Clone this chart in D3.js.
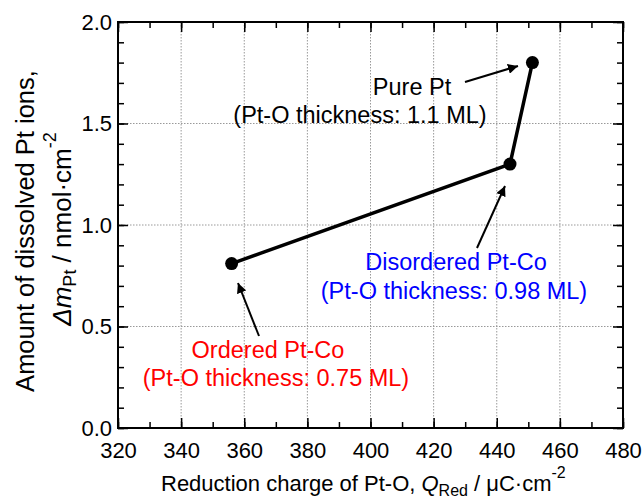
<!DOCTYPE html>
<html>
<head>
<meta charset="utf-8">
<script src="https://d3js.org/d3.v7.min.js"></script>
<style>
  body { margin: 0; background: #fff; }
  text { font-family: "Liberation Sans", Arial, sans-serif; }
</style>
</head>
<body>
<svg width="644" height="503"></svg>
<script>
// charge vs dissolved Pt, three catalysts
var samples = ["Ordered Pt-Co", "Disordered Pt-Co", "Pure Pt"];
var q_red = [356, 444.2, 451.3];
var dm_pt = [0.81, 1.30, 1.80];
var thickness = ["0.75", "0.98", "1.1"];
var x_ticks = [320, 340, 360, 380, 400, 420, 440, 460, 480];
var y_ticks = [0.0, 0.5, 1.0, 1.5, 2.0];

var plotLeft = 118, plotRight = 623, plotTop = 22, plotBottom = 428;

var svg = d3.select("svg");
var x = d3.scaleLinear().domain([320, 480]).range([plotLeft, plotRight]);
var y = d3.scaleLinear().domain([0, 2]).range([plotBottom, plotTop]);

// dotted grid
svg.append("g").selectAll("line")
    .data(x_ticks.slice(1, -1))
  .enter().append("line")
    .attr("x1", d => x(d)).attr("x2", d => x(d))
    .attr("y1", plotTop).attr("y2", plotBottom)
    .style("stroke", "#999").style("stroke-width", 1).style("stroke-dasharray", "1.5,1.5");
svg.append("g").selectAll("line")
    .data(y_ticks.slice(1, -1))
  .enter().append("line")
    .attr("x1", plotLeft).attr("x2", plotRight)
    .attr("y1", d => y(d)).attr("y2", d => y(d))
    .style("stroke", "#999").style("stroke-width", 1).style("stroke-dasharray", "1.5,1.5");

// axes, ticks point inward on all four sides
var xMinor = d3.range(320, 481, 10);
var yMinor = d3.range(0, 21).map(d => d / 10);

function tickStyle(a) { a.select(".domain").remove(); a.selectAll("line").style("stroke", "#000").style("stroke-width", 1.5); }

svg.append("g").attr("transform", "translate(0," + plotBottom + ")")
  .call(d3.axisBottom(x).tickValues(xMinor).tickSize(-6).tickFormat(""))
  .call(tickStyle);
svg.append("g").attr("transform", "translate(0," + plotBottom + ")")
  .call(d3.axisBottom(x).tickValues(x_ticks).tickSize(-10).tickPadding(14).tickFormat(d3.format("d")))
  .call(tickStyle)
  .selectAll("text").style("font-size", "22px").style("fill", "#000");
svg.append("g").attr("transform", "translate(0," + plotTop + ")")
  .call(d3.axisTop(x).tickValues(xMinor).tickSize(-6).tickFormat(""))
  .call(tickStyle);
svg.append("g").attr("transform", "translate(0," + plotTop + ")")
  .call(d3.axisTop(x).tickValues(x_ticks).tickSize(-10).tickFormat(""))
  .call(tickStyle);

svg.append("g").attr("transform", "translate(" + plotLeft + ",0)")
  .call(d3.axisLeft(y).tickValues(yMinor).tickSize(-6).tickFormat(""))
  .call(tickStyle);
svg.append("g").attr("transform", "translate(" + plotLeft + ",0)")
  .call(d3.axisLeft(y).tickValues(y_ticks).tickSize(-10).tickPadding(6).tickFormat(d3.format(".1f")))
  .call(tickStyle)
  .selectAll("text").style("font-size", "22px").style("fill", "#000");
svg.append("g").attr("transform", "translate(" + plotRight + ",0)")
  .call(d3.axisRight(y).tickValues(yMinor).tickSize(-6).tickFormat(""))
  .call(tickStyle);
svg.append("g").attr("transform", "translate(" + plotRight + ",0)")
  .call(d3.axisRight(y).tickValues(y_ticks).tickSize(-10).tickFormat(""))
  .call(tickStyle);

svg.append("rect")
    .attr("x", plotLeft).attr("y", plotTop)
    .attr("width", plotRight - plotLeft).attr("height", plotBottom - plotTop)
    .style("fill", "none").style("stroke", "#000").style("stroke-width", 2);

// data line and markers
var pts = q_red.map((q, i) => [q, dm_pt[i]]);
svg.append("path")
    .datum(pts)
    .attr("d", d3.line().x(d => x(d[0])).y(d => y(d[1])))
    .style("fill", "none").style("stroke", "#000").style("stroke-width", 3.5);
svg.selectAll("circle.pt")
    .data(pts)
  .enter().append("circle")
    .attr("cx", d => x(d[0])).attr("cy", d => y(d[1])).attr("r", 6.5)
    .style("fill", "#000");

// arrows
svg.append("defs").append("marker")
    .attr("id", "head").attr("viewBox", "0 0 10 10")
    .attr("refX", 10).attr("refY", 5)
    .attr("markerWidth", 5).attr("markerHeight", 5)
    .attr("orient", "auto")
  .append("path").attr("d", "M0,0 L10,5 L0,10 z").style("fill", "#000");

var arrows = [
  [[259, 336], [238, 283]],
  [[477, 248], [505, 186]],
  [[465, 82], [518, 66]]
];
svg.selectAll("line.arrow")
    .data(arrows)
  .enter().append("line")
    .attr("x1", d => d[0][0]).attr("y1", d => d[0][1])
    .attr("x2", d => d[1][0]).attr("y2", d => d[1][1])
    .attr("marker-end", "url(#head)")
    .style("stroke", "#000").style("stroke-width", 2);

// labels: [line1 x, line1 y, line2 x, line2 y]
var labelPos = [[268, 358, 276, 386], [456, 270, 454, 299], [412, 95, 360, 123]];
var labelColor = ["#ff0000", "#0000ff", "#000"];
samples.forEach(function (s, i) {
  var p = labelPos[i];
  var g = svg.append("g").style("fill", labelColor[i]).style("font-size", "23.5px").attr("text-anchor", "middle");
  g.append("text").attr("x", p[0]).attr("y", p[1]).text(s);
  g.append("text").attr("x", p[2]).attr("y", p[3]).text("(Pt-O thickness: " + thickness[i] + " ML)");
});

// axis titles
var xt = svg.append("text").attr("x", 161).attr("y", 491)
    .style("font-size", "22px");
xt.append("tspan").text("Reduction charge of Pt-O, ");
xt.append("tspan").style("font-style", "italic").text("Q");
xt.append("tspan").attr("dy", 5).style("font-size", "16px").text("Red");
xt.append("tspan").attr("dy", -5).text(" / μC·cm");
xt.append("tspan").attr("dy", -13).style("font-size", "16px").text("-2");

svg.append("text")
    .attr("transform", "translate(34,231) rotate(-90)")
    .attr("text-anchor", "middle").style("font-size", "25.5px")
    .text("Amount of dissolved Pt ions,");
var yt = svg.append("text")
    .attr("transform", "translate(71,229) rotate(-90)")
    .attr("text-anchor", "middle").style("font-size", "26px");
yt.append("tspan").style("font-style", "italic").text("Δm");
yt.append("tspan").attr("dy", 5).style("font-size", "18px").text("Pt");
yt.append("tspan").attr("dy", -5).text(" / nmol·cm");
yt.append("tspan").attr("dy", -15).style("font-size", "18px").text("-2");
</script>
</body>
</html>
